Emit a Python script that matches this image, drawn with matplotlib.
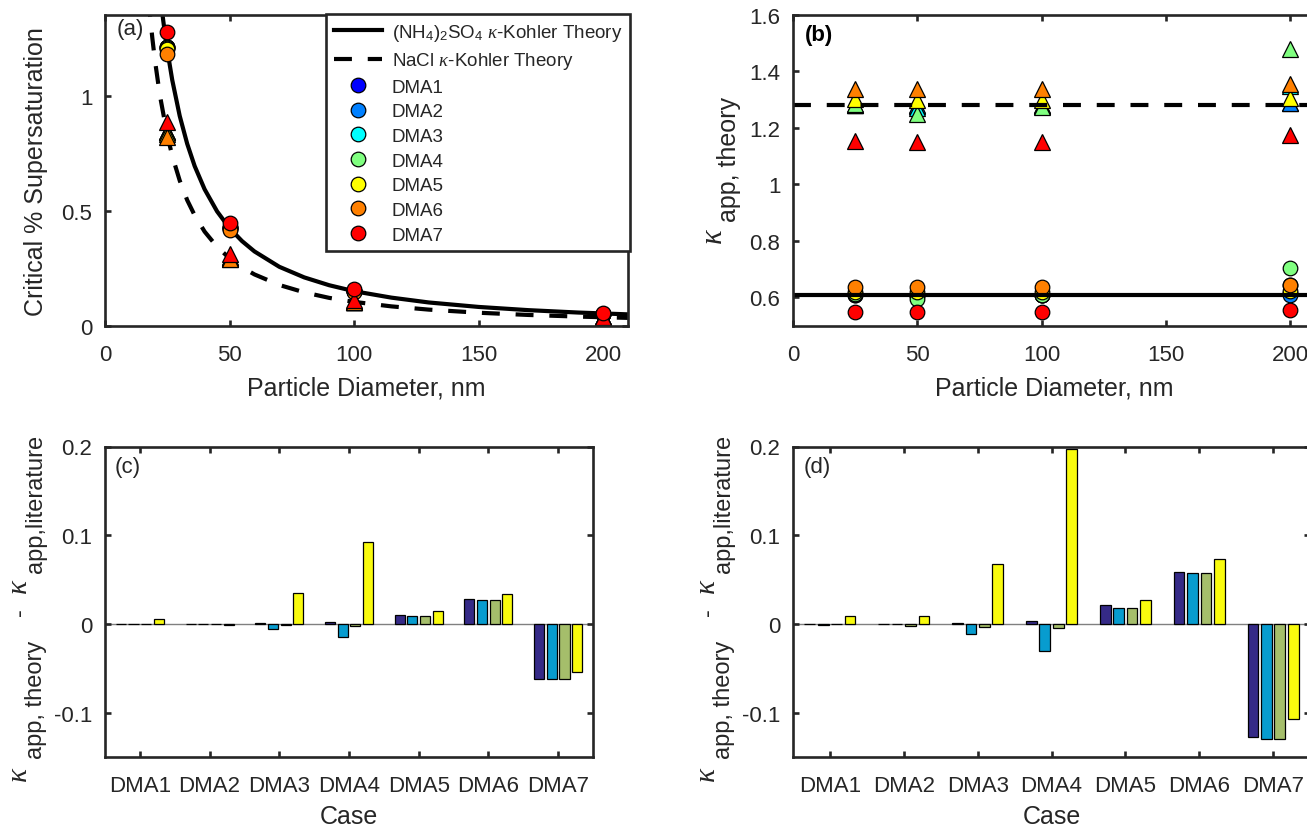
import matplotlib
matplotlib.use('Agg')
import matplotlib.pyplot as plt
from matplotlib.lines import Line2D
from matplotlib.ticker import FuncFormatter

plt.rcParams['font.family'] = ['Liberation Sans', 'DejaVu Sans']
plt.rcParams['mathtext.fontset'] = 'custom'
plt.rcParams['mathtext.rm'] = 'Liberation Sans'
plt.rcParams['mathtext.it'] = 'Liberation Serif:italic'
plt.rcParams['mathtext.bf'] = 'Liberation Sans:bold'

TXT = '#262626'

# ---------------- data ----------------
cases = ['DMA1', 'DMA2', 'DMA3', 'DMA4', 'DMA5', 'DMA6', 'DMA7']
diameters = [25, 50, 100, 200]
dma_colors = ['#0000ff', '#0080ff', '#00ffff', '#80ff80', '#ffff00', '#ff8000', '#ff0000']
bar_colors = ['#352a87', '#079ccf', '#a5be6b', '#f9fb0e']

# kappa-Kohler theory curves
curve_d_as = [22, 23, 24, 25, 27, 30, 33, 36, 40, 45, 50, 55, 60, 70, 80, 90, 100,
              115, 130, 150, 170, 190, 210]
curve_sc_as = [1.453, 1.359, 1.275, 1.199, 1.068, 0.912, 0.791, 0.694, 0.593, 0.497,
               0.424, 0.368, 0.323, 0.256, 0.210, 0.176, 0.150, 0.122, 0.101, 0.0816,
               0.0676, 0.0572, 0.0493]
curve_d_nacl = [17, 18, 19, 20, 22, 25, 27, 30, 33, 36, 40, 45, 50, 55, 60, 70, 80, 90,
                100, 115, 130, 150, 170, 190, 210]
curve_sc_nacl = [1.478, 1.357, 1.251, 1.158, 1.004, 0.829, 0.738, 0.631, 0.546, 0.480,
                 0.409, 0.343, 0.293, 0.254, 0.223, 0.177, 0.145, 0.121, 0.1036, 0.0840,
                 0.0699, 0.0564, 0.0467, 0.0396, 0.0340]

# measured critical supersaturation (rows: DMA1..DMA7, cols: diameters)
sc_as = [[1.21, 0.425, 0.151, 0.053],
         [1.21, 0.425, 0.151, 0.053],
         [1.21, 0.427, 0.151, 0.052],
         [1.207, 0.431, 0.151, 0.049],
         [1.202, 0.422, 0.150, 0.053],
         [1.183, 0.416, 0.148, 0.052],
         [1.276, 0.447, 0.159, 0.056]]
sc_nacl = [[0.84, 0.295, 0.104, 0.037],
           [0.84, 0.295, 0.104, 0.037],
           [0.84, 0.296, 0.104, 0.036],
           [0.84, 0.299, 0.104, 0.034],
           [0.833, 0.292, 0.103, 0.037],
           [0.822, 0.289, 0.102, 0.036],
           [0.886, 0.311, 0.110, 0.039]]

kappa_lit_as = 0.61
kappa_lit_nacl = 1.28

# apparent kappa from theory (rows: DMA1..DMA7, cols: diameters)
kappa_as = [[0.610, 0.6095, 0.610, 0.6153],
            [0.610, 0.610, 0.610, 0.6092],
            [0.6105, 0.604, 0.609, 0.645],
            [0.6123, 0.5953, 0.6074, 0.7028],
            [0.6202, 0.6187, 0.6194, 0.6243],
            [0.6383, 0.6375, 0.6375, 0.6432],
            [0.548, 0.5475, 0.548, 0.556]]
kappa_nacl = [[1.2795, 1.2785, 1.280, 1.2887],
              [1.280, 1.2795, 1.278, 1.2887],
              [1.2815, 1.269, 1.277, 1.348],
              [1.2838, 1.2494, 1.2751, 1.477],
              [1.3015, 1.298, 1.2974, 1.3068],
              [1.3385, 1.3377, 1.337, 1.3536],
              [1.152, 1.150, 1.150, 1.173]]

# kappa_theory - kappa_literature (rows: cases, cols: diameters)
diff_as = [[0.0, -0.0005, 0.0, 0.0053],
           [0.0, 0.0, 0.0, -0.0008],
           [0.0005, -0.006, -0.001, 0.035],
           [0.0023, -0.0147, -0.0026, 0.0928],
           [0.0102, 0.0087, 0.0094, 0.0143],
           [0.0283, 0.0275, 0.0275, 0.0332],
           [-0.062, -0.0625, -0.062, -0.054]]
diff_nacl = [[-0.0005, -0.0015, 0.0, 0.0087],
             [0.0, -0.0005, -0.002, 0.0087],
             [0.0015, -0.011, -0.003, 0.068],
             [0.0038, -0.0306, -0.0049, 0.197],
             [0.0215, 0.018, 0.0174, 0.0268],
             [0.0585, 0.0577, 0.057, 0.0736],
             [-0.128, -0.130, -0.130, -0.107]]

# ---------------- figure ----------------
W, H = 1307, 829
fig = plt.figure(figsize=(W / 100, H / 100), dpi=100)

def frac(l, t, r, b):
    return [l / W, 1 - b / H, (r - l) / W, (b - t) / H]

ax_a = fig.add_axes(frac(105, 15.7, 628, 326.7))
ax_b = fig.add_axes(frac(793, 15.7, 1315, 326.7))
ax_c = fig.add_axes(frac(105, 447.5, 593, 758))
ax_d = fig.add_axes(frac(793, 447.5, 1310, 758))

gfmt = FuncFormatter(lambda v, p: ('%g' % round(v, 6)))

def style(ax):
    for s in ax.spines.values():
        s.set_linewidth(1.9)
        s.set_color(TXT)
        s.set_zorder(10)
    ax.tick_params(direction='in', length=4.5, width=1.9, color=TXT,
                   labelsize=16, labelcolor=TXT, top=True, right=True)
    ax.tick_params(axis='x', pad=13)
    ax.tick_params(axis='y', pad=9)
    ax.yaxis.set_major_formatter(gfmt)

def vtext(x, y, s, size, serif_italic=False):
    """Rotated label piece; (x, y) = start of baseline in figure pixels."""
    kw = dict(rotation=90, rotation_mode='anchor', ha='left', va='baseline',
              fontsize=size, color=TXT)
    if serif_italic:
        kw.update(family='Liberation Serif', style='italic')
    fig.text(x / W, 1 - y / H, s, **kw)

def kappa_label(x0, y0, parts):
    # parts: list of (dx, dy, text, size, is_kappa)
    for dx, dy, s, size, isk in parts:
        vtext(x0 + dx, y0 + dy, s, size, isk)

LW = 3.0
DASH = (4.3, 3.8)

# ---- panel a ----
ax = ax_a
ax.plot(curve_d_as, curve_sc_as, color='k', lw=LW, zorder=2)
ax.plot(curve_d_nacl, curve_sc_nacl, color='k', lw=LW, dashes=DASH, zorder=2)
for i in range(len(cases)):
    ax.plot(diameters, sc_nacl[i], linestyle='none', marker='^', ms=11.5,
            mfc=dma_colors[i], mec='k', mew=0.9, zorder=3)
    ax.plot(diameters, sc_as[i], linestyle='none', marker='o', ms=10.5,
            mfc=dma_colors[i], mec='k', mew=0.9, zorder=3)
ax.set_xlim(0, 210)
ax.set_ylim(0, 1.352)
ax.set_xticks([0, 50, 100, 150, 200])
ax.set_yticks([0, 0.5, 1])
style(ax)
ax.set_xlabel('Particle Diameter, nm', fontsize=18, color=TXT, labelpad=8)
ax.set_ylabel('Critical % Supersaturation', fontsize=18, color=TXT, labelpad=10)
ax.text(0.022, 0.99, '(a)', transform=ax.transAxes, fontsize=16, color=TXT,
        ha='left', va='top')
handles = [Line2D([], [], color='k', lw=LW,
                  label=r'(NH$_4$)$_2$SO$_4$ $\kappa$-Kohler Theory'),
           Line2D([], [], color='k', lw=LW, dashes=DASH,
                  label=r'NaCl $\kappa$-Kohler Theory')]
for i, c in enumerate(cases):
    handles.append(Line2D([], [], linestyle='none', marker='o', ms=10.5,
                          mfc=dma_colors[i], mec='k', mew=0.9, label=c))
leg = ax.legend(handles=handles, loc='upper right', bbox_to_anchor=(1.004, 1.003),
                borderaxespad=0, fontsize=13.5, frameon=True, fancybox=False,
                edgecolor=TXT, framealpha=1, handlelength=2.6, handletextpad=0.5,
                labelspacing=0.4, borderpad=0.42)
leg.get_frame().set_linewidth(1.9)
for t in leg.get_texts():
    t.set_color(TXT)
leg.set_zorder(20)

# ---- panel b ----
ax = ax_b
for i in range(len(cases)):
    ax.plot(diameters, kappa_nacl[i], linestyle='none', marker='^', ms=11.5,
            mfc=dma_colors[i], mec='k', mew=0.9, zorder=2)
    ax.plot(diameters, kappa_as[i], linestyle='none', marker='o', ms=10.5,
            mfc=dma_colors[i], mec='k', mew=0.9, zorder=2)
ax.axhline(kappa_lit_as, color='k', lw=LW, zorder=3)
ax.axhline(kappa_lit_nacl, color='k', lw=LW, dashes=DASH, zorder=3)
ax.set_xlim(0, 210)
ax.set_ylim(0.5, 1.6)
ax.set_xticks([0, 50, 100, 150, 200])
ax.set_yticks([0.6, 0.8, 1.0, 1.2, 1.4, 1.6])
style(ax)
ax.set_xlabel('Particle Diameter, nm', fontsize=18, color=TXT, labelpad=8)
# y label: kappa with lowered subscript "app, theory"
kappa_label(721, 243, [(0, 0, '\u03ba', 22, True),
                       (15, -21, 'app, theory', 18, False)])
ax.text(0.022, 0.97, '(b)', transform=ax.transAxes, fontsize=16, color='k',
        ha='left', va='top', fontweight='bold')

# ---- panels c, d ----
offsets = [-0.2727, -0.0909, 0.0909, 0.2727]
bw = 0.145
for ax, diff, lab, lx in [(ax_c, diff_as, '(c)', 26), (ax_d, diff_nacl, '(d)', 714)]:
    ax.axhline(0, color='#808080', lw=1.0, zorder=1)
    xs = list(range(1, len(cases) + 1))
    for j in range(len(diameters)):
        ax.bar([x + offsets[j] for x in xs], [diff[i][j] for i in range(len(cases))],
               width=bw, color=bar_colors[j], edgecolor='k', linewidth=0.9, zorder=2)
    ax.set_xlim(0.5, 7.5)
    ax.set_ylim(-0.15, 0.2)
    ax.set_xticks(xs)
    ax.set_xticklabels(cases)
    ax.set_yticks([-0.1, 0, 0.1, 0.2])
    style(ax)
    ax.set_xlabel('Case', fontsize=18, color=TXT, labelpad=6)
    kappa_label(lx, 781, [(0, 0, '\u03ba', 21, True),
                          (16, -22, 'app, theory', 17, False),
                          (0, -165, '-', 17, False),
                          (0, -188, '\u03ba', 21, True),
                          (16, -208, 'app,literature', 17, False)])
    ax.text(0.02, 0.97, lab, transform=ax.transAxes, fontsize=16, color=TXT,
            ha='left', va='top')

fig.savefig('out.png', dpi=100)
